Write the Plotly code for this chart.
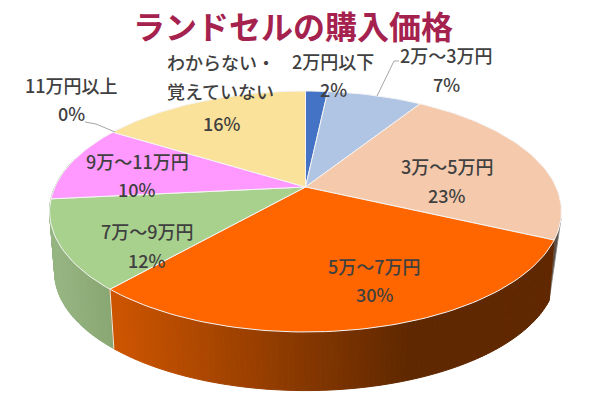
import math
import plotly.graph_objects as go

categories = ["2万円以下", "2万～3万円", "3万～5万円", "5万～7万円", "7万～9万円", "9万～11万円", "11万円以上", "わからない・<br>覚えていない"]
percent_values = [1.7, 7.3, 22.9, 29.6, 11.9, 10.4, 0, 16.2]
slice_colors = ["#4472C4", "#B0C4E3", "#F5C9AC", "#FF6600", "#A9D18E", "#FF99FF", "#BDD7EE", "#FBE29A"]
title_text = "ランドセルの購入価格"

# perspective disc geometry (page pixels)
CX, CY = 305.5, 187.0
A, B, K = 115.5, 250.6, 0.2033
BOTTOM_SCALE, BOTTOM_DROP = 0.98, 61.5
FONT = "Noto Sans CJK JP Medium, Noto Sans CJK JP"
TITLE_FONT = "Noto Sans CJK JP"
INK = "#404040"
LABEL_SIZE = 18


def top(theta):
    u, v = math.sin(theta), math.cos(theta)
    w = 1 + K * v
    return CX + B * u / w, CY - A * v / w


def bottom(theta):
    x, y = top(theta)
    return CX + (x - CX) * BOTTOM_SCALE, CY + (y - CY) * BOTTOM_SCALE + BOTTOM_DROP


def mix(c1, c2, t):
    t = max(0.0, min(1.0, t))
    return "#" + "".join(f"{round(a + (b - a) * t):02x}" for a, b in zip(c1, c2))


def wall_colour(index, x):
    if index == 3:
        return mix((0xCC, 0x54, 0x00), (0x60, 0x28, 0x00), (x - 117) / 290)
    return mix((0x96, 0xB5, 0x82), (0x86, 0xA5, 0x70), (x - 55) / 60)


cum = [0.0]
for p in percent_values:
    cum.append(cum[-1] + p)
total = cum[-1]
edges = [c / total * 2 * math.pi for c in cum]

fig = go.Figure()


def polygon(xs, ys, fill, line=None, width=1.0):
    fig.add_trace(go.Scatter(x=xs, y=ys, mode="lines", fill="toself", fillcolor=fill,
                             line=dict(color=line or fill, width=width), hoverinfo="skip", showlegend=False))


# thin visible sliver of the peach slice's wall at the far right
sliver_start = math.radians(105)
n = 6
arc = [top(sliver_start + (edges[3] - sliver_start) * s / n) for s in range(n + 1)]
tip = bottom(edges[3])
polygon([q[0] for q in arc] + [tip[0], arc[0][0]], [q[1] for q in arc] + [tip[1], arc[0][1]], "#5A4F47", "#8A8580", 0.8)

# side wall, built strip by strip from the slice angles
for i in (4, 3):
    a0, a1 = edges[i], edges[i + 1]
    if i == 4:
        a1 = math.radians(285)
    n = max(4, int((a1 - a0) / math.radians(1.0)))
    for s in range(n):
        t0 = a0 + (a1 - a0) * s / n
        t1 = a0 + (a1 - a0) * (s + 1) / n
        p = [top(t0), top(t1), bottom(t1), bottom(t0), top(t0)]
        polygon([q[0] for q in p], [q[1] for q in p], wall_colour(i, (top(t0)[0] + top(t1)[0]) / 2))

# white seam between the orange and green walls
seam = [top(edges[4]), bottom(edges[4])]
fig.add_trace(go.Scatter(x=[q[0] for q in seam], y=[q[1] for q in seam], mode="lines",
                         line=dict(color="#E8EFE4", width=1), hoverinfo="skip", showlegend=False))

# top faces
for i, col in enumerate(slice_colors):
    a0, a1 = edges[i], edges[i + 1]
    if a1 <= a0:
        continue
    n = max(2, int((a1 - a0) / math.radians(1.5)))
    arc = [top(a0 + (a1 - a0) * s / n) for s in range(n + 1)]
    xs = [CX] + [q[0] for q in arc] + [CX]
    ys = [CY] + [q[1] for q in arc] + [CY]
    polygon(xs, ys, col, "#F4F4F4", 1.0)

# leader lines
for xs, ys in (([377, 394, 399], [96, 61, 61]), ([115, 96, 85], [132, 124, 122])):
    fig.add_trace(go.Scatter(x=xs, y=ys, mode="lines", line=dict(color="#A6A6A6", width=1),
                             hoverinfo="skip", showlegend=False))

label_pos = [(333, 61, 89), (446.5, 55, 84), (447, 166, 195), (374.5, 266, 294),
             (147, 231, 260), (137, 161, 189), (71.5, 85, 113)]
for name, val, (x, y1, y2) in zip(categories, percent_values, label_pos):
    fig.add_annotation(x=x, y=y1, text=name, showarrow=False, font=dict(family=FONT, size=LABEL_SIZE, color=INK))
    fig.add_annotation(x=x, y=y2, text=f"{round(val)}%", showarrow=False, font=dict(family=FONT, size=LABEL_SIZE, color=INK))

line1, line2 = categories[7].split("<br>")
fig.add_annotation(x=165, y=62, text=line1, xanchor="left", showarrow=False, font=dict(family=FONT, size=LABEL_SIZE, color=INK))
fig.add_annotation(x=165, y=91, text=line2, xanchor="left", showarrow=False, font=dict(family=FONT, size=LABEL_SIZE, color=INK))
fig.add_annotation(x=222, y=123, text=f"{round(percent_values[7])}%", showarrow=False, font=dict(family=FONT, size=LABEL_SIZE, color=INK))

fig.update_layout(
    width=600, height=400, margin=dict(l=0, r=0, t=0, b=0),
    paper_bgcolor="white", plot_bgcolor="white", showlegend=False,
    title=dict(text=f"<b>{title_text}</b>", x=293 / 600, xanchor="center", y=1 - 28 / 400, yanchor="middle",
               font=dict(family=TITLE_FONT, size=32, color="#A5214E")),
    xaxis=dict(range=[0, 600], visible=False, fixedrange=True),
    yaxis=dict(range=[400, 0], visible=False, fixedrange=True),
)
fig.write_html("out.html", config=dict(displayModeBar=False),
               post_script="document.body.style.margin='0';document.body.style.overflow='hidden';")
